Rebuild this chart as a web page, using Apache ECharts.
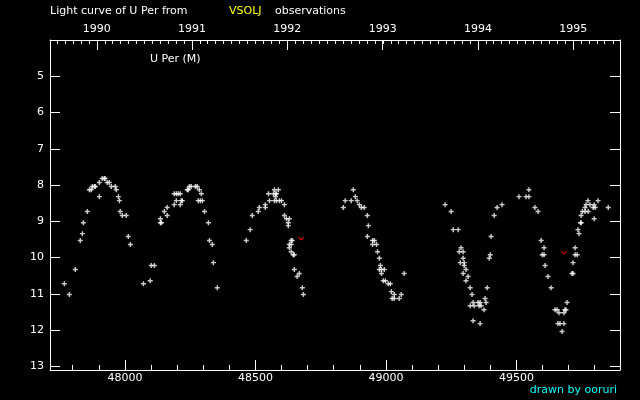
<!DOCTYPE html>
<html>
<head>
<meta charset="utf-8">
<script src="https://cdn.jsdelivr.net/npm/echarts@6/dist/echarts.min.js"></script>
<style>
  html, body { margin: 0; padding: 0; background: #000; }
  #chart { width: 640px; height: 400px; }
</style>
</head>
<body>
<div id="chart"></div>
<script>
// JD - 2400000 of visual observations, and magnitudes
var obsJd = [
  47768, 47787, 47810, 47829, 47837, 47841, 47856, 47864, 47871, 47875, 47883, 47887,
  47902, 47902, 47913, 47921, 47924, 47932, 47940, 47948, 47963, 47967, 47975, 47979,
  47982, 47990, 48005, 48013, 48021, 48071, 48097, 48101, 48113,
  48136, 48140, 48136, 48151, 48162, 48162, 48189, 48197, 48189, 48197, 48204, 48212,
  48212, 48216, 48220, 48239, 48243, 48247, 48254, 48270, 48277, 48285, 48293, 48281,
  48289, 48297, 48305, 48320, 48324, 48335, 48339, 48354,
  48465, 48480, 48488, 48511, 48515, 48538, 48538, 48550, 48554, 48573, 48588, 48569,
  48577, 48581, 48577, 48573, 48581, 48592, 48600, 48611, 48611, 48619, 48630, 48626,
  48626, 48637, 48641, 48630, 48637, 48630, 48637, 48645, 48649, 48649, 48668, 48660,
  48680, 48684,
  48837, 48844, 48867, 48875, 48883, 48890, 48898, 48906, 48917, 48929, 48933, 48929,
  48949, 48956, 48949, 48964, 48968, 48975, 48979, 48975, 48983, 48994, 48983, 48990,
  48998, 49009, 49017, 49021, 49024, 49032, 49032, 49051, 49059, 49070,
  49227, 49250, 49258, 49277, 49288, 49281, 49296, 49296, 49285, 49300, 49300, 49307,
  49296, 49315, 49307, 49323, 49330, 49334, 49353, 49361, 49323, 49338, 49357, 49365,
  49334, 49361, 49376, 49380, 49384, 49388, 49396, 49400, 49403, 49415, 49426, 49445,
  49510, 49537, 49548, 49548, 49571, 49583,
  49595, 49606, 49599, 49606, 49610, 49621, 49633, 49648, 49656, 49663, 49682, 49686,
  49690, 49694, 49659, 49667, 49682, 49675, 49713, 49717, 49717, 49725, 49733, 49725,
  49736, 49740, 49746, 49748, 49748, 49753, 49763, 49775, 49763, 49767, 49782, 49774,
  49798, 49794, 49802, 49798, 49813, 49852
];
var obsMag = [
  10.72, 11.02, 10.33, 9.53, 9.34, 9.04, 8.73, 8.13, 8.13, 8.04, 8.04, 8.04,
  8.32, 7.93, 7.82, 7.82, 7.82, 7.93, 7.93, 8.04, 8.04, 8.13, 8.32, 8.43,
  8.73, 8.84, 8.84, 9.42, 9.64, 10.72, 10.64, 10.22, 10.22,
  9.04, 9.04, 8.93, 8.73, 8.84, 8.62, 8.54, 8.43, 8.24, 8.24, 8.24, 8.24,
  8.54, 8.43, 8.43, 8.13, 8.13, 8.04, 8.04, 8.04, 8.04, 8.13, 8.24, 8.43,
  8.43, 8.43, 8.73, 9.04, 9.53, 9.64, 10.14, 10.83,
  9.53, 9.23, 8.84, 8.73, 8.62, 8.62, 8.54, 8.24, 8.43, 8.13, 8.13, 8.24,
  8.24, 8.24, 8.32, 8.43, 8.43, 8.43, 8.43, 8.54, 8.84, 8.93, 8.93, 9.04,
  9.12, 9.53, 9.53, 9.64, 9.64, 9.73, 9.84, 9.92, 9.92, 10.33, 10.44, 10.52,
  10.83, 11.02,
  8.62, 8.43, 8.43, 8.13, 8.32, 8.43, 8.54, 8.62, 8.62, 8.84, 9.12, 9.42,
  9.53, 9.53, 9.64, 9.64, 9.84, 10.02, 10.22, 10.33, 10.33, 10.33, 10.44, 10.64,
  10.64, 10.72, 10.72, 10.94, 11.13, 11.02, 11.13, 11.13, 11.02, 10.44,
  8.54, 8.73, 9.23, 9.23, 9.73, 9.84, 9.84, 10.02, 10.14, 10.14, 10.22, 10.33,
  10.44, 10.52, 10.64, 10.83, 11.02, 11.24, 11.24, 11.24, 11.33, 11.33, 11.33, 11.33,
  11.74, 11.82, 11.44, 11.13, 11.24, 10.83, 10.02, 9.92, 9.42, 8.84, 8.62, 8.54,
  8.32, 8.32, 8.32, 8.13, 8.62, 8.73,
  9.53, 9.73, 9.92, 9.92, 10.22, 10.52, 10.83, 11.44, 11.44, 11.52, 11.52, 11.44,
  11.44, 11.24, 11.82, 11.82, 11.82, 12.04, 10.44, 10.44, 10.14, 9.92, 9.92, 9.73,
  9.23, 9.34, 9.04, 9.04, 8.84, 8.73, 8.73, 8.73, 8.62, 8.54, 8.54, 8.43,
  8.54, 8.62, 8.62, 8.93, 8.43, 8.62
];
// "fainter than" estimates (red marks)
var limJd = [48676, 49682];
var limMag = [9.48, 9.87];

// axis ticks
var jdMajor = [48000, 48500, 49000, 49500];
var jdMinor = [47800, 47900, 48100, 48200, 48300, 48400, 48600, 48700, 48800, 48900,
  49100, 49200, 49300, 49400, 49600, 49700, 49800];
var yearJd = [47892.5, 48257.5, 48622.5, 48987.5, 49352.5, 49717.5];
var yearLabels = ['1990', '1991', '1992', '1993', '1994', '1995'];
var magTicks = [5, 6, 7, 8, 9, 10, 11, 12, 13];

var jdMin = 47713, jdMax = 49897;

// month starts on the same JD scale
var monthJd = [];
for (var y = 1989; y <= 1995; y++) {
  for (var m = 0; m < 12; m++) {
    var jd = Date.UTC(y, m, 1) / 86400000 + 2440587.5 - 2400000;
    if (jd > jdMin && jd < jdMax) monthJd.push(jd);
  }
}

var obsData = obsJd.map(function (d, i) { return [d, obsMag[i]]; });
var limData = limJd.map(function (d, i) { return [d, limMag[i]]; });

var font = 'DejaVu Sans';
var white = '#ffffff';

function xAx(pos, ticks, len, showLine, labels, fmt, margin) {
  return {
    type: 'value', position: pos, min: jdMin, max: jdMax,
    axisLine: { show: showLine, lineStyle: { color: white, width: 1 } },
    axisTick: { show: true, inside: true, length: len, customValues: ticks,
      lineStyle: { color: white, width: 1 } },
    axisLabel: labels ? { show: true, customValues: labels, formatter: fmt,
      color: white, fontFamily: font, fontSize: 11, margin: margin } : { show: false },
    splitLine: { show: false }
  };
}

var chart = echarts.init(document.getElementById('chart'));
chart.setOption({
  backgroundColor: '#000000',
  animation: false,
  grid: { left: 50, right: 20, top: 40, bottom: 30 },
  xAxis: [
    xAx('bottom', jdMajor, 10, true, jdMajor, function (v) { return String(v); }, 3),
    xAx('bottom', jdMinor, 5, false),
    xAx('top', yearJd, 10, true, yearJd, function (v) {
      return yearLabels[yearJd.indexOf(v)];
    }, 5),
    xAx('top', monthJd, 4, false)
  ],
  yAxis: [
    {
      type: 'value', inverse: true, min: 4, max: 13.1, position: 'left',
      axisLine: { show: true, lineStyle: { color: white, width: 1 } },
      axisTick: { show: true, inside: true, length: 10, customValues: magTicks,
        lineStyle: { color: white } },
      axisLabel: { customValues: magTicks, color: white, fontFamily: font, fontSize: 11, margin: 6 },
      splitLine: { show: false }
    },
    {
      type: 'value', inverse: true, min: 4, max: 13.1, position: 'right',
      axisLine: { show: true, lineStyle: { color: white, width: 1 } },
      axisTick: { show: true, inside: true, length: 10, customValues: magTicks,
        lineStyle: { color: white } },
      axisLabel: { show: false },
      splitLine: { show: false }
    }
  ],
  series: [
    {
      type: 'scatter', data: obsData, silent: true,
      symbol: 'path://M1.8,0H3.2V5H1.8ZM0,1.8H5V3.2H0Z', symbolSize: 5,
      itemStyle: { color: white }
    },
    {
      type: 'scatter', data: limData, silent: true,
      symbol: 'path://M0,0H1.4L2.5,1.8L3.6,0H5L3.2,3H1.8Z', symbolSize: [6, 3],
      itemStyle: { color: '#ff0000' }
    }
  ],
  graphic: [
    { type: 'text', left: 50, top: 6, style: { text: 'Light curve of U Per from', fill: white, font: '11px ' + font } },
    { type: 'text', left: 229, top: 6, style: { text: 'VSOLJ', fill: '#ffff00', font: '11px ' + font } },
    { type: 'text', left: 275, top: 6, style: { text: 'observations', fill: white, font: '11px ' + font } },
    { type: 'text', left: 150, top: 54, style: { text: 'U Per (M)', fill: white, font: '11px ' + font } },
    { type: 'text', right: 23, top: 385, style: { text: 'drawn by ooruri', fill: '#00ffff', font: '11px ' + font } }
  ]
});
</script>
</body>
</html>
